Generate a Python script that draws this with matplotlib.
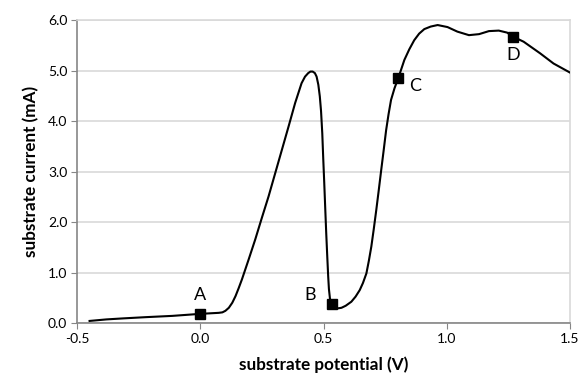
import matplotlib
matplotlib.use("Agg")
import matplotlib.pyplot as plt

# substrate potential (V) vs substrate current (mA)
potential = [-0.449, -0.381, -0.314, -0.220, -0.113, 0.0, 0.075, 0.090, 0.102, 0.116,
             0.130, 0.143, 0.156, 0.169, 0.196, 0.223, 0.250, 0.277, 0.304, 0.331,
             0.358, 0.385, 0.411, 0.425, 0.438, 0.447, 0.456, 0.465, 0.472, 0.479,
             0.485, 0.490, 0.495, 0.499, 0.503, 0.507, 0.511, 0.515, 0.519, 0.522,
             0.526, 0.530, 0.535, 0.545, 0.560, 0.573, 0.590, 0.613, 0.630, 0.647,
             0.660, 0.674, 0.684, 0.694, 0.704, 0.714, 0.724, 0.734, 0.744, 0.754,
             0.764, 0.774, 0.788, 0.804, 0.828, 0.848, 0.868, 0.888, 0.909, 0.935,
             0.963, 1.003, 1.043, 1.090, 1.131, 1.171, 1.211, 1.245, 1.269, 1.312,
             1.379, 1.433, 1.5]
current = [0.05, 0.08, 0.10, 0.125, 0.15, 0.19, 0.21, 0.22, 0.25, 0.31,
           0.41, 0.54, 0.70, 0.87, 1.26, 1.66, 2.09, 2.51, 2.97, 3.43,
           3.89, 4.36, 4.75, 4.88, 4.95, 4.98, 4.98, 4.95, 4.88, 4.72,
           4.49, 4.20, 3.76, 3.25, 2.78, 2.28, 1.79, 1.35, 0.93, 0.68,
           0.50, 0.41, 0.36, 0.32, 0.30, 0.31, 0.35, 0.43, 0.53, 0.66,
           0.80, 0.99, 1.24, 1.52, 1.87, 2.24, 2.63, 3.03, 3.42, 3.82,
           4.14, 4.42, 4.65, 4.86, 5.21, 5.42, 5.60, 5.73, 5.82, 5.87,
           5.90, 5.86, 5.77, 5.70, 5.72, 5.78, 5.79, 5.75, 5.67, 5.57,
           5.34, 5.14, 4.96]

# labelled points
point_names = ["A", "B", "C", "D"]
point_x = [0.0, 0.535, 0.804, 1.269]
point_y = [0.19, 0.375, 4.86, 5.67]

xticks = [-0.5, 0.0, 0.5, 1.0, 1.5]
yticks = [0, 1, 2, 3, 4, 5, 6]

plt.rcParams["font.family"] = ["Lato", "DejaVu Sans"]

fig = plt.figure(figsize=(5.82, 3.77), dpi=100)
ax = fig.add_axes([0.1323, 0.142, 0.9794 - 0.1323, 0.947 - 0.142])

ax.plot(potential, current, color="black", lw=1.5, zorder=3)
ax.plot(point_x, point_y, "s", color="black", ms=7, zorder=4)

# label offsets (data units) relative to each marker
offsets = {"A": (0.0, 0.38), "B": (-0.089, 0.19), "C": (0.066, -0.17), "D": (0.0, -0.36)}
for name, x, y in zip(point_names, point_x, point_y):
    dx, dy = offsets[name]
    ax.text(x + dx, y + dy, name, fontsize=13, ha="center", va="center", color="black")

ax.set_xlim(-0.5, 1.5)
ax.set_ylim(0, 6)
ax.set_xticks(xticks)
ax.set_yticks(yticks)
ax.set_xticklabels(["-0.5" if t < 0 else f"{t:.1f}" for t in xticks])
ax.set_yticklabels([f"{t:.1f}" for t in yticks])
ax.tick_params(labelsize=10, length=4, color="#868686", pad=3)

ax.grid(axis="y", color="#d9d9d9", lw=1.2)
ax.set_axisbelow(True)
for side in ["left", "bottom"]:
    ax.spines[side].set_color("#868686")
    ax.spines[side].set_linewidth(1.2)
for side in ["right", "top"]:
    ax.spines[side].set_color("#d9d9d9")
    ax.spines[side].set_linewidth(1.2)

ax.set_xlabel("substrate potential (V)", fontsize=12.3, fontweight="bold", labelpad=8)
ax.set_ylabel("substrate current (mA)", fontsize=12.3, fontweight="bold", labelpad=6)

fig.savefig("out.png", dpi=100)
